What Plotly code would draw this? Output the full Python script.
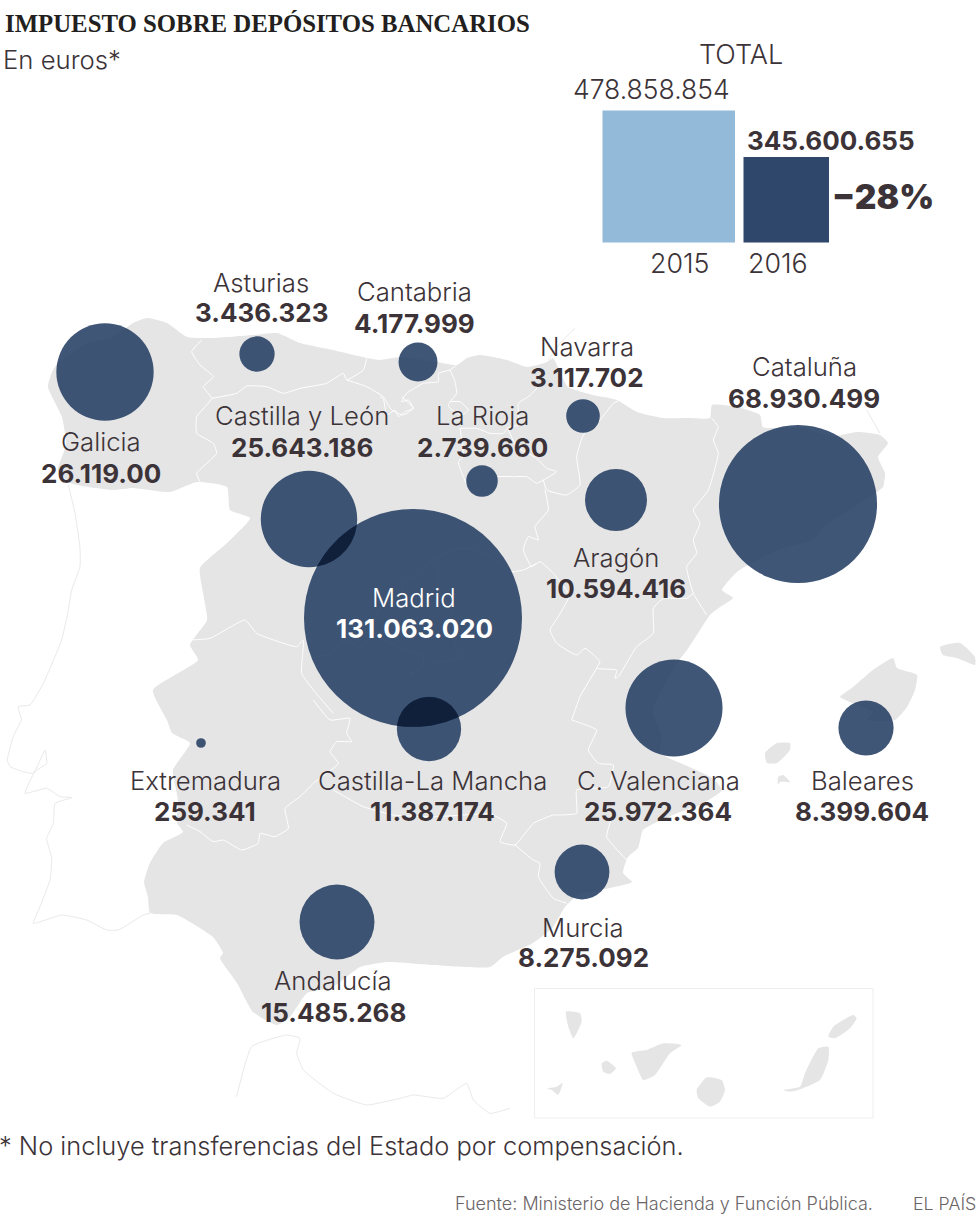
import numpy as np
import plotly.graph_objects as go

# values
regions = ["Galicia", "Asturias", "Cantabria", "Navarra", "Castilla y León", "La Rioja", "Madrid", "Aragón",
           "Cataluña", "Castilla-La Mancha", "Extremadura", "C. Valenciana", "Baleares", "Murcia", "Andalucía"]
values = [26119000, 3436323, 4177999, 3117702, 25643186, 2739660, 131063020, 10594416,
          68930499, 11387174, 259341, 25972364, 8399604, 8275092, 15485268]
value_labels = ["26.119.00", "3.436.323", "4.177.999", "3.117.702", "25.643.186", "2.739.660", "131.063.020",
                "10.594.416", "68.930.499", "11.387.174", "259.341", "25.972.364", "8.399.604", "8.275.092",
                "15.485.268"]
years = ["2015", "2016"]
total_labels = ["478.858.854", "345.600.655"]

# positions in picture pixels
bubble_x = [105, 257, 418, 583, 309, 482, 413, 616, 798, 429, 201, 674, 866, 582, 337]
bubble_y = [372, 354, 362, 416, 519, 481, 618, 500, 504, 729, 743, 708, 728, 872, 922]
name_x = [101, 261, 414, 587, 302, 482, 414, 616, 804, 432, 205, 658, 862, 583, 333]
name_y = [441, 282, 291, 346, 415, 415, 597, 557, 366, 780, 780, 780, 780, 927, 980]
num_y = [473, 312, 323, 377, 447, 447, 628, 588, 398, 811, 811, 811, 811, 957, 1012]
bar_x = [668.75, 786.25]
bar_w = [132.5, 85.5]
bar_h = [132, 85.5]

INK = "#3c3338"
LAND = "#e5e5e5"
NAVY = "rgba(33,58,96,0.86)"
FONT = "Inter, sans-serif"


def z(ox, oy, pts):
    return [(ox + p[0] / 3, oy + p[1] / 3) for p in pts]


mainland = [
    (133, 323), (147, 318), (167, 323), (187, 337), (213, 338), (253, 335), (277, 333), (300, 343), (333, 350),
    (367, 358), (380, 360), (400, 357), (437, 362), (457, 365), (467, 358), (480, 355), (507, 360), (527, 367),
    (547, 362), (553, 358), (560, 372), (568, 387), (593, 395), (617, 400), (637, 412), (663, 418), (690, 418),
    (710, 418), (712, 405), (737, 407), (760, 415), (763, 427), (800, 428), (835, 436), (857, 432), (880, 435),
    (888, 443), (878, 457), (885, 473), (883, 487), (877, 492), (857, 505), (823, 527), (813, 540), (783, 548),
    (753, 562), (737, 572), (722, 590), (733, 598), (720, 607), (710, 615), (700, 630), (687, 650), (677, 663),
    (667, 680), (655, 703), (653, 713), (662, 737), (660, 753), (685, 765), (712, 778), (722, 790), (700, 805),
    (680, 812), (657, 822), (643, 830), (638, 848), (628, 857), (623, 873), (632, 882), (610, 888), (578, 895),
    (565, 907), (553, 927), (533, 943), (503, 957), (490, 967), (433, 965), (387, 962), (360, 967), (333, 987),
    (307, 993), (290, 1017), (277, 1025), (253, 1012), (237, 983), (220, 958), (223, 953), (213, 937), (190, 922),
    (177, 915), (150, 913), (148, 897), (144, 882), (150, 863), (163, 843), (183, 832), (177, 823), (178, 800),
    (173, 770), (190, 743), (172, 733), (167, 720), (153, 690), (198, 660), (190, 645), (207, 620), (203, 593),
    (200, 568), (227, 543), (250, 518), (230, 510), (227, 487), (197, 482), (170, 492), (133, 488), (113, 490),
    (70, 483), (58, 470), (66, 445), (62, 417), (48, 387), (52, 372), (58, 363), (87, 343), (113, 337), (133, 323),
]
islands = [
    [(840, 697), (853, 687), (873, 670), (893, 658), (897, 668), (917, 675), (915, 690), (907, 707), (895, 720),
     (867, 720), (873, 712), (850, 702), (840, 697)],
    [(940, 647), (960, 643), (975, 657), (975, 665), (957, 658), (943, 655), (940, 647)],
    [(765, 753), (777, 743), (790, 743), (790, 750), (777, 763), (767, 763), (765, 753)],
    [(778, 777), (783, 775), (790, 782), (780, 782), (778, 785), (778, 777)],
    z(490, 700, [(228, 935), (270, 940), (275, 965), (250, 1015), (235, 980), (228, 935)]),
    z(490, 700, [(335, 1090), (350, 1082), (378, 1105), (360, 1122), (340, 1115), (335, 1090)]),
    z(490, 700, [(425, 1058), (470, 1050), (520, 1030), (575, 1035), (540, 1060), (495, 1125), (460, 1140), (440, 1100), (425, 1058)]),
    z(490, 700, [(170, 1165), (200, 1160), (218, 1148), (205, 1185), (185, 1170), (170, 1165)]),
    z(490, 700, [(620, 1170), (650, 1132), (695, 1140), (705, 1170), (690, 1205), (660, 1220), (625, 1195), (620, 1170)]),
    z(490, 700, [(880, 1170), (930, 1160), (945, 1120), (985, 1045), (1015, 1040), (1015, 1080), (990, 1140), (925, 1170), (900, 1175), (880, 1170)]),
    z(490, 700, [(1015, 1010), (1030, 980), (1090, 945), (1100, 955), (1080, 985), (1035, 1015), (1015, 1010)]),
]
foreign_lines = [
    z(0, 300, [(205, 555), (225, 640), (240, 745), (240, 800), (215, 870), (205, 930), (185, 1020), (130, 1150), (90, 1215), (55, 1220), (65, 1260)])
    + z(0, 700, [(65, 60), (40, 110), (22, 180), (30, 200), (70, 215), (100, 220), (135, 150), (140, 190), (105, 215), (75, 280), (140, 265), (180, 290), (215, 293), (165, 310), (160, 370), (140, 415), (155, 475), (150, 540), (120, 620), (100, 670), (185, 645), (260, 660), (320, 690), (355, 690), (430, 645), (450, 640)]),
    z(490, 300, [(255, 85), (210, 130), (175, 180)]),
    z(490, 300, [(1130, 330), (1170, 400)]),
    z(0, 700, [(710, 1190), (755, 1040), (860, 1005), (900, 1015), (890, 1060), (910, 1110), (1000, 1180), (1100, 1215), (1200, 1195), (1240, 1185), (1330, 1195), (1400, 1150), (1420, 1200), (1470, 1240)])
    + z(490, 700, [(60, 1225)]),
]
borders = [
    z(0, 300, [(605, 120), (575, 155), (600, 195), (640, 230), (610, 260), (635, 295), (590, 350), (590, 400), (640, 430), (650, 460), (590, 520), (600, 545)]),
    z(0, 300, [(635, 295), (710, 280), (740, 258), (800, 260), (850, 280), (900, 265), (980, 250), (1030, 220), (1040, 240), (1090, 210), (1100, 175)]),
    z(0, 300, [(1040, 240), (1100, 260), (1150, 290), (1175, 330), (1210, 345), (1240, 325), (1205, 290)]),
    z(380, 340, [(0, 170), (10, 175), (20, 225), (45, 210), (55, 230), (75, 215), (100, 205), (85, 180), (65, 185), (80, 160), (130, 130), (175, 125), (175, 100), (210, 90), (230, 75)]),
    z(380, 340, [(210, 90), (225, 125), (230, 160), (210, 185), (205, 195), (210, 205), (245, 225), (265, 210), (240, 185), (210, 185)]),
    z(380, 340, [(240, 265), (290, 265), (330, 280), (370, 280), (385, 262), (415, 255), (415, 190), (445, 170), (470, 145), (460, 130)]),
    z(380, 340, [(240, 265), (250, 350), (235, 365), (250, 410), (265, 440), (300, 405), (320, 425), (350, 410), (400, 410), (440, 410), (470, 430), (490, 420), (530, 395), (500, 385), (470, 355), (410, 320), (385, 270)]),
    z(380, 340, [(490, 420), (500, 450), (560, 465), (600, 435), (590, 350), (610, 285), (660, 240), (700, 190), (720, 180)]),
    z(490, 300, [(165, 570), (175, 630), (135, 680), (145, 720), (115, 710), (100, 750), (125, 800), (150, 785), (190, 820), (235, 880), (235, 895), (205, 950), (180, 990), (200, 1030), (260, 1065), (285, 1045), (330, 1085), (320, 1105), (380, 1110), (375, 1135), (385, 1130), (440, 1040), (490, 1000), (490, 925), (520, 895), (590, 895), (610, 880)]),
    z(490, 300, [(665, 355), (685, 380), (670, 420), (685, 460), (655, 570), (610, 630), (630, 670), (610, 720), (620, 760), (590, 800), (610, 880), (650, 945)]),
    z(490, 300, [(320, 1105), (270, 1190), (245, 1260)])
    + z(490, 700, [(245, 60), (320, 90), (295, 150), (325, 190), (370, 195), (355, 260), (260, 270), (260, 340), (210, 345), (190, 345), (130, 370), (75, 435), (30, 425), (50, 370), (0, 340)]),
    z(490, 700, [(75, 435), (130, 480), (150, 490), (145, 530), (190, 595), (230, 610)]),
    z(490, 700, [(370, 340), (350, 410), (415, 485)]),
    z(0, 700, [(1000, 270), (1090, 320), (1180, 345), (1300, 350), (1470, 340)]),
    z(0, 700, [(940, 0), (990, 60), (1050, 55), (1040, 100), (1055, 125), (1010, 125), (990, 155), (1015, 190), (940, 250), (900, 290), (855, 325), (865, 385), (825, 410), (780, 400), (775, 430), (725, 450), (670, 420), (640, 425), (600, 395), (560, 375)]),
    z(0, 300, [(570, 1020), (630, 1015), (735, 960), (770, 1000), (890, 1040), (910, 1020), (905, 1120), (940, 1170), (1000, 1240)]),
    z(310, 520, [(20, 410), (55, 405), (100, 365), (120, 365), (150, 385), (190, 335), (195, 300), (210, 265), (275, 220), (280, 185), (320, 165), (340, 140), (360, 125), (430, 90), (490, 85), (550, 115), (600, 155), (640, 150), (680, 130)]),
    z(310, 520, [(360, 125), (385, 150), (385, 210), (430, 280), (450, 330), (435, 370), (460, 410), (400, 425), (360, 430), (300, 465), (340, 430), (340, 410), (280, 385), (230, 365), (190, 335)]),
]


def join(shapes):
    xs, ys = [], []
    for s in shapes:
        xs += [p[0] for p in s] + [None]
        ys += [p[1] for p in s] + [None]
    return xs, ys


def lens(i, j, r):
    # overlap of two bubbles, the source multiplies them so it reads darker
    t = np.linspace(0, 2 * np.pi, 720)
    xa = bubble_x[i] + r[i] * np.cos(t)
    ya = bubble_y[i] + r[i] * np.sin(t)
    xb = bubble_x[j] + r[j] * np.cos(t)
    yb = bubble_y[j] + r[j] * np.sin(t)
    ina = np.hypot(xa - bubble_x[j], ya - bubble_y[j]) <= r[j]
    inb = np.hypot(xb - bubble_x[i], yb - bubble_y[i]) <= r[i]
    px = np.r_[xa[ina], xb[inb]]
    py = np.r_[ya[ina], yb[inb]]
    order = np.argsort(np.arctan2(py - py.mean(), px - px.mean()))
    return list(zip(px[order], py[order]))


MAX_D = 218
sizeref = 2 * max(values) / MAX_D ** 2
radius = [MAX_D / 2 * np.sqrt(v / max(values)) for v in values]

fig = go.Figure()

x, y = join([mainland] + islands)
fig.add_trace(go.Scatter(x=x, y=y, mode="lines", fill="toself", fillcolor=LAND,
                         line=dict(width=0, shape="spline", smoothing=0.5), hoverinfo="skip"))
x, y = join(foreign_lines)
fig.add_trace(go.Scatter(x=x, y=y, mode="lines", line=dict(color="#e9e9e9", width=1, shape="spline", smoothing=0.4),
                         hoverinfo="skip"))
x, y = join(borders)
fig.add_trace(go.Scatter(x=x, y=y, mode="lines", line=dict(color="#ffffff", width=1, shape="spline", smoothing=0.4),
                         hoverinfo="skip"))
fig.add_trace(go.Scatter(x=[534.5, 873, 873, 534.5, 534.5], y=[988.5, 988.5, 1118, 1118, 988.5], mode="lines",
                         line=dict(color="#eeeeee", width=1), hoverinfo="skip"))

fig.add_trace(go.Scatter(x=bubble_x, y=bubble_y, mode="markers", text=regions,
                         marker=dict(size=values, sizemode="area", sizeref=sizeref, color=NAVY, opacity=1,
                                     line=dict(width=0))))
x, y = join([lens(4, 6, radius), lens(9, 6, radius)])
fig.add_trace(go.Scatter(x=x, y=y, mode="lines", fill="toself", fillcolor="#101f3a", line=dict(width=0), hoverinfo="skip"))

fig.add_trace(go.Bar(x=bar_x, y=[-h for h in bar_h], base=242.5, width=bar_w,
                     marker=dict(color=["#94bada", "#2f476b"], line=dict(width=0))))


def label(x, y, text, size=25.7, font=FONT, color=INK, anchor="center", weight=300, xshift=0):
    fig.add_annotation(x=x, y=y, text=text, showarrow=False, xanchor=anchor, yanchor="middle", align="left",
                       xshift=xshift, font=dict(family=font, size=size, color=color, weight=weight))


for i, name in enumerate(regions):
    color = "#ffffff" if name == "Madrid" else INK
    label(name_x[i], name_y[i], name, color=color)
    label(name_x[i], num_y[i], value_labels[i], size=26, color=color, weight=700)

label(3, 23, "IMPUESTO SOBRE DEPÓSITOS BANCARIOS", size=24.8, font="Liberation Serif", color="#231f20", anchor="left", weight=700)
label(1, 59, "En euros*", size=25.7, anchor="left")
label(741, 54, "TOTAL", size=27)
label(651, 89, total_labels[0], size=26.5)
label(831, 140, total_labels[1], size=26, weight=700)
label(883, 197, "−28%", size=33.5, weight=900)
label(679, 263, years[0], size=26.8)
label(778, 263, years[1], size=26.8)
label(0, 1145, "* No incluye transferencias del Estado por compensación.", size=25.4, anchor="left", xshift=-3)
label(453, 1203, "Fuente: Ministerio de Hacienda y Función Pública.", size=18, color="#6b6567", anchor="left")
label(911, 1203, "EL PAÍS", size=17.8, color="#6b6567", anchor="left")

fig.update_xaxes(range=[0, 980], visible=False, fixedrange=True)
fig.update_yaxes(range=[1228, 0], visible=False, fixedrange=True)
fig.update_layout(width=980, height=1228, margin=dict(l=0, r=0, t=0, b=0), showlegend=False,
                  plot_bgcolor="#ffffff", paper_bgcolor="#ffffff")

fig.write_html("out.html", config=dict(displayModeBar=False), post_script="document.body.style.margin='0';")
